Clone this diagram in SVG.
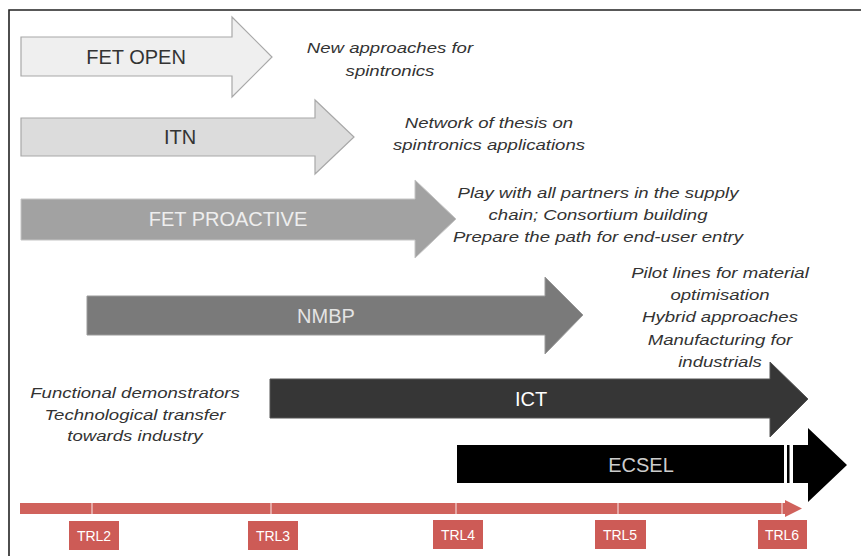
<svg xmlns="http://www.w3.org/2000/svg" width="861" height="556" viewBox="0 0 861 556">
<style>
.lbl{font-family:"Liberation Sans",Arial,sans-serif;font-size:20px;text-anchor:middle;dominant-baseline:central}
.note{font-family:"Liberation Sans",Arial,sans-serif;font-size:15px;font-style:italic;fill:#333;text-anchor:middle}
.trl{font-family:"Liberation Sans",Arial,sans-serif;font-size:14px;fill:#fff;text-anchor:middle;dominant-baseline:central}
.trlbox{fill:#cd5b56}
</style>
<rect x="0" y="0" width="861" height="556" fill="#fff"/>
<path d="M9,557 L9,10 L862,10" fill="none" stroke="#222" stroke-width="1.6"/>

<g id="fet-open">
<polygon points="21,37 232,37 232,17 272,57 232,97 232,76 21,76" fill="#efefef" stroke="#a8a8a8" stroke-width="1.2"/>
<text class="lbl" x="136" y="57" fill="#333">FET OPEN</text>
</g>
<g id="fet-open-note" transform="translate(390,0) scale(1.24,1)">
<text class="note" x="0" y="53">New approaches for</text>
<text class="note" x="0" y="76">spintronics</text>
</g>

<g id="itn">
<polygon points="21,118 315,118 315,100 354,137 315,174 315,156 21,156" fill="#dcdcdc" stroke="#a8a8a8" stroke-width="1.2"/>
<text class="lbl" x="180" y="137" fill="#333">ITN</text>
</g>
<g id="itn-note" transform="translate(489,0) scale(1.24,1)">
<text class="note" x="0" y="128">Network of thesis on</text>
<text class="note" x="0" y="150">spintronics applications</text>
</g>

<g id="fet-proactive">
<polygon points="21,199 415,199 415,180 456,219 415,258 415,240 21,240" fill="#a2a2a2" stroke="#c4c4c4" stroke-width="1"/>
<text class="lbl" x="228" y="219" fill="#eeeeee">FET PROACTIVE</text>
</g>
<g id="fet-proactive-note" transform="translate(598,0) scale(1.24,1)">
<text class="note" x="0" y="198">Play with all partners in the supply</text>
<text class="note" x="0" y="220">chain; Consortium building</text>
<text class="note" x="0" y="242">Prepare the path for end-user entry</text>
</g>

<g id="nmbp">
<polygon points="87,296 545,296 545,277 583,315 545,354 545,335 87,335" fill="#7a7a7a" stroke="#9a9a9a" stroke-width="1"/>
<text class="lbl" x="326" y="316" fill="#e4e4e4">NMBP</text>
</g>
<g id="nmbp-note" transform="translate(720,0) scale(1.24,1)">
<text class="note" x="0" y="278">Pilot lines for material</text>
<text class="note" x="0" y="300">optimisation</text>
<text class="note" x="0" y="322">Hybrid approaches</text>
<text class="note" x="0" y="345">Manufacturing for</text>
<text class="note" x="0" y="367">industrials</text>
</g>

<g id="ict">
<polygon points="270,379 770,379 770,362 808,399 770,437 770,418 270,418" fill="#363636" stroke="#555" stroke-width="1"/>
<text class="lbl" x="531" y="399" fill="#ffffff">ICT</text>
</g>
<g id="ict-note" transform="translate(135,0) scale(1.24,1)">
<text class="note" x="0" y="398">Functional demonstrators</text>
<text class="note" x="0" y="420">Technological transfer</text>
<text class="note" x="0" y="441">towards industry</text>
</g>

<g id="ecsel">
<rect x="457" y="445" width="327" height="38" fill="#000"/>
<rect x="787" y="445" width="2.5" height="38" fill="#000"/>
<polygon points="793,445 808,445 808,428 847,465 808,502 808,483 793,483" fill="#000"/>
<text class="lbl" x="641" y="465" fill="#cccccc">ECSEL</text>
</g>

<g id="connectors">
<polygon points="20,503 785,503 785,500 802,508.5 785,517 785,514 20,514" fill="#d0625c"/>
<g stroke="#f3d6d4" stroke-width="1.2">
<line x1="92" y1="503" x2="92" y2="514"/>
<line x1="271" y1="503" x2="271" y2="514"/>
<line x1="456" y1="503" x2="456" y2="514"/>
<line x1="618" y1="503" x2="618" y2="514"/>
<line x1="782" y1="503" x2="782" y2="514"/>
</g>
</g>

<g id="trl2"><rect class="trlbox" x="69" y="521" width="50" height="29"/><text class="trl" x="94" y="536">TRL2</text></g>
<g id="trl3"><rect class="trlbox" x="248" y="521" width="50" height="29"/><text class="trl" x="273" y="536">TRL3</text></g>
<g id="trl4"><rect class="trlbox" x="433" y="520" width="50" height="29"/><text class="trl" x="458" y="535">TRL4</text></g>
<g id="trl5"><rect class="trlbox" x="595" y="520" width="51" height="29"/><text class="trl" x="620" y="535">TRL5</text></g>
<g id="trl6"><rect class="trlbox" x="758" y="520" width="49" height="29"/><text class="trl" x="782" y="535">TRL6</text></g>
</svg>
